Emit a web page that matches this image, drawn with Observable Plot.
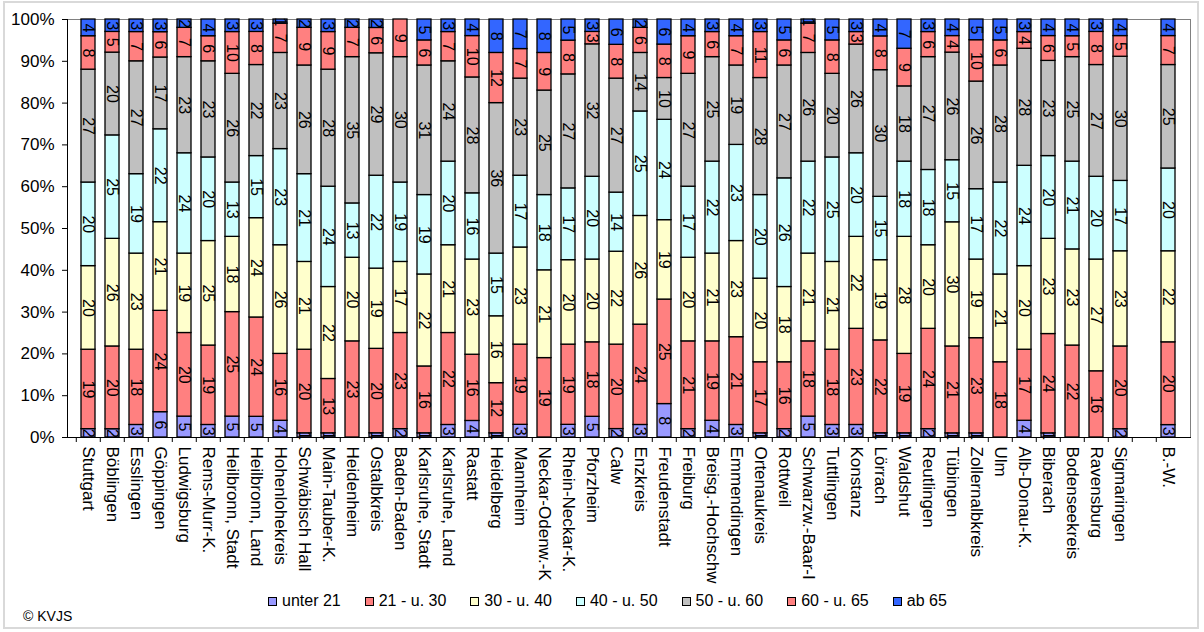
<!DOCTYPE html>
<html>
<head>
<meta charset="utf-8">
<script src="https://cdn.jsdelivr.net/npm/d3@7"></script>
<script src="https://cdn.jsdelivr.net/npm/@observablehq/plot@0.6"></script>
<style>
  html, body { margin: 0; padding: 0; background: #fff; }
  #wrap { position: relative; width: 1204px; height: 632px; overflow: hidden; font-family: "Liberation Sans", Arial, sans-serif; }
  #border { position: absolute; left: 3px; top: 1px; width: 1196px; height: 628px; border: 2px solid #d9d9d9; box-sizing: border-box; pointer-events: none; }
  #chart { position: absolute; left: 0; top: 0; }
  #legend { position: absolute; left: 268px; top: 592px; display: flex; align-items: center; font-size: 16px; color: #000; white-space: nowrap; }
  .item { display: flex; align-items: center; margin-right: 24px; }
  .sw { width: 7px; height: 7px; border: 1px solid #000; margin-right: 5px; }
  #caption { position: absolute; left: 23px; top: 608px; font-size: 14px; color: #000; }
</style>
</head>
<body>
<div id="wrap">
  <div id="chart"></div>
  <div id="legend"></div>
  <div id="caption">© KVJS</div>
  <div id="border"></div>
</div>
<script>
const categories = ["Stuttgart","Böblingen","Esslingen","Göppingen","Ludwigsburg","Rems-Murr-K.","Heilbronn, Stadt","Heilbronn, Land","Hohenlohekreis","Schwäbisch Hall","Main-Tauber-K.","Heidenheim","Ostalbkreis","Baden-Baden","Karlsruhe, Stadt","Karlsruhe, Land","Rastatt","Heidelberg","Mannheim","Neckar-Odenw.-K","Rhein-Neckar-K.","Pforzheim","Calw","Enzkreis","Freudenstadt","Freiburg","Breisg.-Hochschw","Emmendingen","Ortenaukreis","Rottweil","Schwarzw.-Baar-I","Tuttlingen","Konstanz","Lörrach","Waldshut","Reutlingen","Tübingen","Zollernalbkreis","Ulm","Alb-Donau-K.","Biberach","Bodenseekreis","Ravensburg","Sigmaringen"," ","B.-W."];

const groups = ["unter 21","21 - u. 30","30 - u. 40","40 - u. 50","50 - u. 60","60 - u. 65","ab 65"];
const colors = ["#9999FF","#FF8080","#FFFFCC","#CCFFFF","#C0C0C0","#FF8080","#3366FF"];

const unter21 = [2,2,3,6,5,3,5,5,4,1,1,0,1,2,1,3,4,1,3,0,3,5,2,3,8,2,4,3,1,2,5,3,3,1,1,2,1,1,0,4,1,0,0,2,null,3];
const a21_30  = [19,20,18,24,20,19,25,24,16,20,13,23,20,23,16,22,16,12,19,19,19,18,20,24,25,21,19,21,17,16,18,18,23,22,19,24,21,23,18,17,24,22,16,20,null,20];
const a30_40  = [20,26,23,21,19,25,18,24,26,21,22,20,19,17,22,21,23,16,23,21,20,20,22,26,19,20,21,23,20,18,21,21,22,19,28,20,30,19,21,20,23,23,27,23,null,22];
const a40_50  = [20,25,19,22,24,20,13,15,23,21,24,13,22,19,19,20,16,15,17,18,17,20,14,25,24,17,22,23,20,26,22,25,20,15,18,18,15,17,22,24,20,21,20,17,null,20];
const a50_60  = [27,20,27,17,23,23,26,22,23,26,28,35,29,30,31,24,28,36,23,25,27,32,27,14,10,27,25,19,28,27,26,20,26,30,18,27,26,26,28,28,23,25,27,30,null,25];
const a60_65  = [8,5,7,6,7,6,10,8,7,9,9,7,6,9,6,7,10,12,7,9,8,3,8,6,8,9,6,7,11,6,7,8,3,8,9,6,4,10,6,4,6,5,8,5,null,7];
const ab65    = [4,3,3,3,2,4,3,3,1,2,3,2,2,0,5,3,4,8,7,8,5,3,6,2,6,4,3,4,3,5,1,5,3,4,7,3,4,5,5,3,4,4,3,4,null,4];

const series = [unter21, a21_30, a30_40, a40_50, a50_60, a60_65, ab65];

const data = categories.flatMap((c, i) =>
  series.map((s, j) => ({cat: c, group: groups[j], v: s[i]}))
).filter(d => d.v != null && d.v > 0);

const W = 1204, H = 594, ML = 67, MR = 14, MT = 19, MB = H - 437;
const halfStep = (W - ML - MR) / categories.length / 2;

const chart = Plot.plot({
  width: W,
  height: H,
  marginLeft: ML,
  marginRight: MR,
  marginTop: MT,
  marginBottom: MB,
  style: {fontFamily: "'Liberation Sans', Arial, sans-serif", color: "#000", background: "transparent", overflow: "visible"},
  x: {domain: categories, paddingInner: 0.4, paddingOuter: 0.2, label: null},
  y: {domain: [0, 1], label: null},
  color: {domain: groups, range: colors},
  marks: [
    Plot.frame({stroke: "#808080", strokeWidth: 1}),
    Plot.barY(data, {x: "cat", y: "v", fill: "group", stroke: "#000", strokeWidth: 1.3, offset: "normalize"}),
    Plot.text(data, Plot.stackY({x: "cat", y: "v", z: "group", offset: "normalize", text: d => String(d.v), rotate: 90, fontSize: 16, fill: "#000"})),
    Plot.frame({anchor: "left", stroke: "#000", strokeWidth: 1}),
    Plot.frame({anchor: "bottom", stroke: "#000", strokeWidth: 1}),
    Plot.axisY({ticks: d3.range(0, 1.001, 0.1), tickFormat: d3.format(".0%"), tickSize: 5, tickPadding: 8, fontSize: 17, label: null}),
    Plot.axisX({tickSize: 5, tickFormat: () => "", dx: -halfStep, label: null}),
    Plot.axisX({tickSize: 0, tickRotate: 90, tickPadding: 9, fontSize: 17, tickFormat: d => d.trim(), label: null})
  ]
});
document.getElementById("chart").appendChild(chart);

const legend = document.getElementById("legend");
groups.forEach((g, i) => {
  const item = document.createElement("div");
  item.className = "item";
  const sw = document.createElement("div");
  sw.className = "sw";
  sw.style.background = colors[i];
  const t = document.createElement("span");
  t.textContent = g;
  item.appendChild(sw);
  item.appendChild(t);
  legend.appendChild(item);
});
</script>
</body>
</html>
